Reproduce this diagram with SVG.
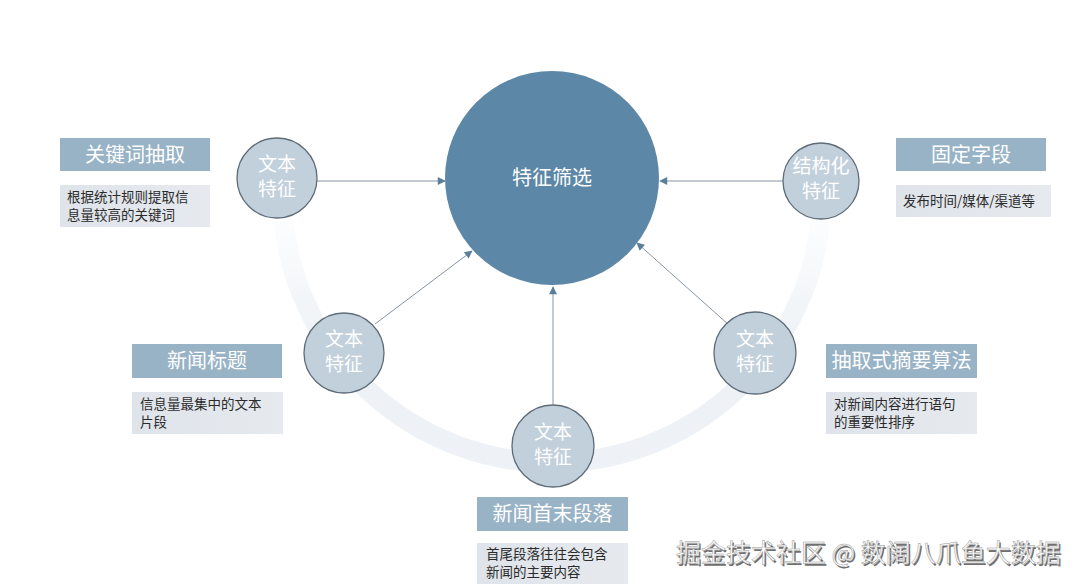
<svg xmlns="http://www.w3.org/2000/svg" width="1080" height="587" viewBox="0 0 1080 587">
  <defs>
    <linearGradient id="band" gradientUnits="userSpaceOnUse" x1="0" y1="200" x2="0" y2="340">
      <stop offset="0" stop-color="#eef2f6" stop-opacity="0"/>
      <stop offset="1" stop-color="#eef2f6" stop-opacity="1"/>
    </linearGradient>
    <linearGradient id="descfill" x1="0" y1="0" x2="1" y2="0">
      <stop offset="0" stop-color="#dfe4ea"/>
      <stop offset="1" stop-color="#e6eaef"/>
    </linearGradient>
    <marker id="arr" viewBox="0 0 10 10" refX="9" refY="5" markerWidth="9" markerHeight="8" markerUnits="userSpaceOnUse" orient="auto">
      <path d="M0,0 L10,5 L0,10 z" fill="#5b7f9a"/>
    </marker>
    <style>
      .cjk { font-family: "Noto Sans CJK SC", "Noto Sans", sans-serif; }
      .small { fill: #c2d0dc; stroke: #5e6c78; stroke-width: 1.3; }
      .ctext { fill: #ffffff; font-size: 19px; text-anchor: middle; }
      .title { fill: #98b3c6; }
      .ttext { fill: #ffffff; font-size: 20px; text-anchor: middle; }
      .desc { fill: url(#descfill); }
      .dtext { fill: #2b2b2b; font-size: 13.5px; }
      .conn { stroke: #8794a0; stroke-width: 1; fill: none; marker-end: url(#arr); }
    </style>
  </defs>

  <rect width="1080" height="587" fill="#ffffff"/>

  <!-- background arc band -->
  <path d="M 283 216 A 270 270 0 0 0 821 216" fill="none" stroke="url(#band)" stroke-width="20"/>

  <!-- connectors -->
  <g id="connectors">
    <line class="conn" x1="317" y1="181" x2="445" y2="181"/>
    <line class="conn" x1="784" y1="181" x2="660" y2="181"/>
    <line class="conn" x1="375" y1="324" x2="472" y2="251"/>
    <line class="conn" x1="729" y1="325" x2="637" y2="243"/>
    <line class="conn" x1="553" y1="406" x2="553" y2="287"/>
  </g>

  <!-- central node -->
  <g id="center">
    <circle cx="552" cy="178" r="107" fill="#5d87a6"/>
    <text class="cjk" x="552" y="185" fill="#ffffff" font-size="20" text-anchor="middle">特征筛选</text>
  </g>

  <!-- top-left -->
  <g id="node-keyword">
    <circle class="small" cx="277" cy="178" r="40"/>
    <text class="cjk ctext" x="277" y="170.5">文本</text>
    <text class="cjk ctext" x="277" y="196">特征</text>
    <rect class="title" x="60" y="138" width="150" height="33"/>
    <text class="cjk ttext" x="135" y="162">关键词抽取</text>
    <rect class="desc" x="60" y="185" width="150" height="42"/>
    <text class="cjk dtext" x="67" y="202">根据统计规则提取信</text>
    <text class="cjk dtext" x="67" y="220">息量较高的关键词</text>
  </g>

  <!-- top-right -->
  <g id="node-fixed">
    <circle class="small" cx="821" cy="181" r="38"/>
    <text class="cjk ctext" x="821" y="172.5">结构化</text>
    <text class="cjk ctext" x="821" y="198">特征</text>
    <rect class="title" x="896" y="138" width="150" height="33"/>
    <text class="cjk ttext" x="971" y="162">固定字段</text>
    <rect class="desc" x="896" y="185" width="155" height="32"/>
    <text class="cjk dtext" x="903" y="206">发布时间/媒体/渠道等</text>
  </g>

  <!-- mid-left -->
  <g id="node-title">
    <circle class="small" cx="344" cy="353" r="40"/>
    <text class="cjk ctext" x="344" y="345.5">文本</text>
    <text class="cjk ctext" x="344" y="371">特征</text>
    <rect class="title" x="132" y="344" width="150" height="34"/>
    <text class="cjk ttext" x="207" y="368">新闻标题</text>
    <rect class="desc" x="132" y="392" width="151" height="42"/>
    <text class="cjk dtext" x="140" y="409">信息量最集中的文本</text>
    <text class="cjk dtext" x="140" y="427">片段</text>
  </g>

  <!-- mid-right -->
  <g id="node-summary">
    <circle class="small" cx="755" cy="353" r="41"/>
    <text class="cjk ctext" x="755" y="345.5">文本</text>
    <text class="cjk ctext" x="755" y="371">特征</text>
    <rect class="title" x="826" y="344" width="151" height="34"/>
    <text class="cjk ttext" x="901.5" y="368">抽取式摘要算法</text>
    <rect class="desc" x="826" y="392" width="151" height="42"/>
    <text class="cjk dtext" x="834" y="409">对新闻内容进行语句</text>
    <text class="cjk dtext" x="834" y="427">的重要性排序</text>
  </g>

  <!-- bottom -->
  <g id="node-paragraph">
    <circle class="small" cx="553" cy="446" r="41"/>
    <text class="cjk ctext" x="553" y="438.5">文本</text>
    <text class="cjk ctext" x="553" y="464">特征</text>
    <rect class="title" x="477" y="497" width="151" height="34"/>
    <text class="cjk ttext" x="552.5" y="521">新闻首末段落</text>
    <rect class="desc" x="477" y="543" width="151" height="41"/>
    <text class="cjk dtext" x="486" y="559">首尾段落往往会包含</text>
    <text class="cjk dtext" x="486" y="577">新闻的主要内容</text>
  </g>

  <!-- watermark -->
  <g id="watermark">
    <text class="cjk" x="677.5" y="563.5" font-size="25" fill="#6f6f6f">掘金技术社区 @ 数阔八爪鱼大数据</text>
    <text class="cjk" x="676" y="562" font-size="25" fill="#fbfbfb" stroke="#9a9a9a" stroke-width="0.5">掘金技术社区 @ 数阔八爪鱼大数据</text>
  </g>
</svg>
